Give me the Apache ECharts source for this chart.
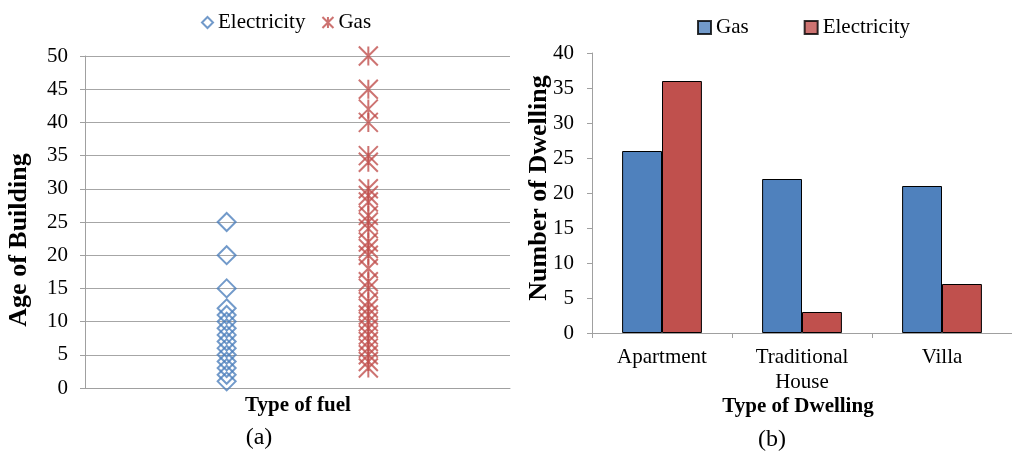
<!DOCTYPE html>
<html>
<head>
<meta charset="utf-8">
<script src="https://cdn.jsdelivr.net/npm/echarts@6/dist/echarts.min.js"></script>
<style>html,body{margin:0;padding:0;background:#fff}#c{width:1012px;height:453px}</style>
</head>
<body>
<div id="c"></div>
<script>
// ---- data (a): age of building by fuel type ----
const fuelTypes = ['Electricity', 'Gas'];
const electricityAges = [25, 20, 15, 12, 11, 10, 9, 8, 7, 6, 5, 4, 3, 2, 1];
const gasAges = [50, 45, 42, 40, 35, 34, 30, 29, 28, 26, 25, 24, 22, 21, 20, 18, 16, 15, 13, 12, 11, 10, 9, 8, 7, 6, 5, 4, 3];
const ageTicks = [0, 5, 10, 15, 20, 25, 30, 35, 40, 45, 50];
// ---- data (b): number of dwellings by type ----
const dwellingTypes = ['Apartment', 'Traditional\nHouse', 'Villa'];
const gasDwellings = [26, 22, 21];
const electricityDwellings = [36, 3, 7];

const BLUE = '#4F81BD', RED = '#C0504D', AXIS = '#A0A0A0';
const FONT = 'Liberation Serif';
const FS = 21;
const ASTER = 'path://M0,0L20,20M20,0L0,20M10,0L10,20';

const chart = echarts.init(document.getElementById('c'));
chart.setOption({
  animation: false,
  textStyle: { fontFamily: FONT, color: '#000' },
  legend: [
    { left: 196, top: 7, itemGap: 16, itemWidth: 11, itemHeight: 11,
      textStyle: { fontFamily: FONT, fontSize: FS, color: '#000' },
      data: [
        { name: fuelTypes[0], icon: 'diamond', itemStyle: { color: 'rgba(0,0,0,0)', borderColor: BLUE, borderWidth: 2 } },
        { name: fuelTypes[1], icon: ASTER, itemStyle: { color: 'rgba(0,0,0,0)', borderColor: RED, borderWidth: 2 } }
      ] },
    { left: 692, top: 12, itemGap: 55, itemWidth: 13, itemHeight: 13,
      textStyle: { fontFamily: FONT, fontSize: FS, color: '#000' },
      data: [
        { name: 'Gas', icon: 'rect', itemStyle: { color: BLUE, borderColor: '#000', borderWidth: 2 } },
        { name: 'Electricity', icon: 'rect', itemStyle: { color: RED, borderColor: '#000', borderWidth: 2 } }
      ] }
  ],
  grid: [
    { left: 85, top: 56, width: 425, height: 332 },
    { left: 592, top: 53, width: 429, height: 280 }
  ],
  xAxis: [
    { gridIndex: 0, type: 'value', min: 0, max: 3,
      axisLine: { show: true, lineStyle: { color: AXIS } },
      axisTick: { show: false }, axisLabel: { show: false }, splitLine: { show: false } },
    { gridIndex: 1, type: 'category', data: dwellingTypes,
      axisLine: { show: true, lineStyle: { color: AXIS } },
      axisTick: { show: true, alignWithLabel: false, length: 5, lineStyle: { color: AXIS } },
      axisLabel: { interval: 0, fontFamily: FONT, fontSize: FS, color: '#000', lineHeight: 25, margin: 12 } }
  ],
  yAxis: [
    { gridIndex: 0, type: 'value', min: ageTicks[0], max: ageTicks[ageTicks.length - 1], interval: 5,
      axisLine: { show: true, lineStyle: { color: AXIS } },
      axisTick: { show: true, length: 5, lineStyle: { color: AXIS } },
      axisLabel: { fontFamily: FONT, fontSize: FS, color: '#000', margin: 17 },
      splitLine: { show: true, lineStyle: { color: '#A6A6A6' } } },
    { gridIndex: 1, type: 'value', min: 0, max: 40, interval: 5,
      axisLine: { show: true, lineStyle: { color: AXIS } },
      axisTick: { show: true, length: 5, lineStyle: { color: AXIS } },
      axisLabel: { fontFamily: FONT, fontSize: FS, color: '#000', margin: 18 },
      splitLine: { show: false } }
  ],
  series: [
    { name: fuelTypes[0], type: 'scatter', xAxisIndex: 0, yAxisIndex: 0,
      symbol: 'diamond', symbolSize: 18,
      itemStyle: { color: 'rgba(0,0,0,0)', borderColor: BLUE, borderWidth: 2 },
      data: electricityAges.map(v => [1, v]) },
    { name: fuelTypes[1], type: 'scatter', xAxisIndex: 0, yAxisIndex: 0,
      symbol: ASTER, symbolSize: 19,
      itemStyle: { color: 'rgba(0,0,0,0)', borderColor: RED, borderWidth: 2 },
      data: gasAges.map(v => [2, v]) },
    { name: 'Gas', type: 'bar', xAxisIndex: 1, yAxisIndex: 1,
      barGap: '0%', barCategoryGap: '43%',
      itemStyle: { color: BLUE, borderColor: '#000', borderWidth: 1 },
      data: gasDwellings },
    { name: 'Electricity', type: 'bar', xAxisIndex: 1, yAxisIndex: 1,
      barGap: '0%', barCategoryGap: '43%',
      itemStyle: { color: RED, borderColor: '#000', borderWidth: 1 },
      data: electricityDwellings }
  ],
  graphic: [
    { type: 'text', x: 19, y: 240, rotation: Math.PI / 2,
      style: { text: 'Age of Building', font: 'bold 26px "Liberation Serif"', fill: '#000', textAlign: 'center', textVerticalAlign: 'middle' } },
    { type: 'text', x: 298, y: 406,
      style: { text: 'Type of fuel', font: 'bold 21px "Liberation Serif"', fill: '#000', textAlign: 'center', textVerticalAlign: 'middle' } },
    { type: 'text', x: 259, y: 438,
      style: { text: '(a)', font: '24px "Liberation Serif"', fill: '#000', textAlign: 'center', textVerticalAlign: 'middle' } },
    { type: 'text', x: 539, y: 188, rotation: Math.PI / 2,
      style: { text: 'Number of Dwelling', font: 'bold 26px "Liberation Serif"', fill: '#000', textAlign: 'center', textVerticalAlign: 'middle' } },
    { type: 'text', x: 798, y: 407,
      style: { text: 'Type of Dwelling', font: 'bold 21px "Liberation Serif"', fill: '#000', textAlign: 'center', textVerticalAlign: 'middle' } },
    { type: 'text', x: 772, y: 440,
      style: { text: '(b)', font: '24px "Liberation Serif"', fill: '#000', textAlign: 'center', textVerticalAlign: 'middle' } }
  ]
});
</script>
</body>
</html>
